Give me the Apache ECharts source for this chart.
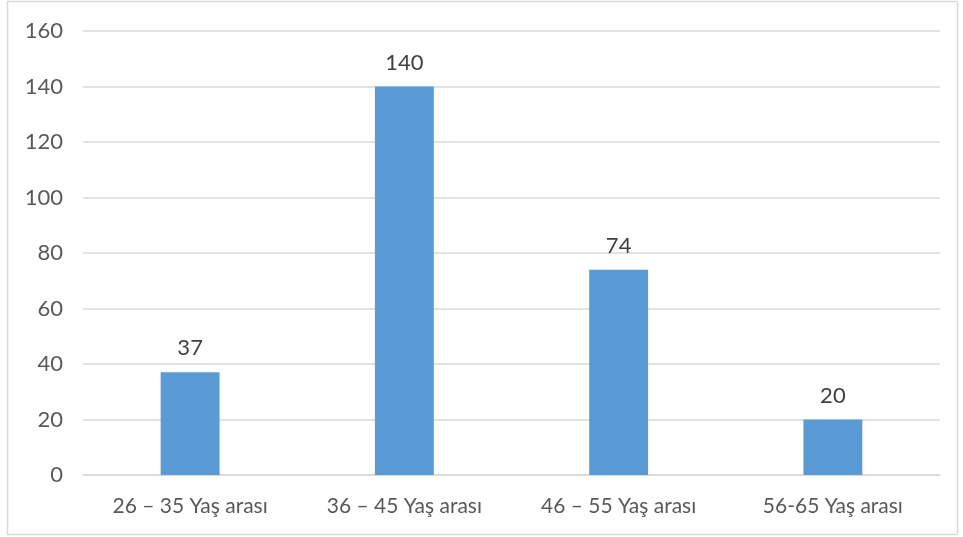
<!DOCTYPE html>
<html><head><meta charset="utf-8">
<script src="https://cdn.jsdelivr.net/npm/echarts@6/dist/echarts.min.js"></script>
<style>html,body{margin:0;padding:0;background:#fff}#c{width:963px;height:537px}</style>
</head><body><div id="c"></div>
<script>
var categories = ['26 – 35 Yaş arası', '36 – 45 Yaş arası', '46 – 55 Yaş arası', '56-65 Yaş arası'];
var values = [37, 140, 74, 20];
var yTicks = [0, 20, 40, 60, 80, 100, 120, 140, 160];

var chart = echarts.init(document.getElementById('c'));
chart.setOption({
  animation: false,
  backgroundColor: '#fff',
  graphic: [{type: 'rect', shape: {x: 7.5, y: 1.5, width: 950, height: 533}, style: {fill: 'none', stroke: '#d9d9d9', lineWidth: 1.5}, silent: true}],
  grid: {left: 83, right: 23, top: 31, bottom: 62},
  xAxis: {
    type: 'category', data: categories,
    axisLine: {lineStyle: {color: '#d9d9d9', width: 1.5}},
    axisTick: {show: false},
    axisLabel: {color: '#595959', fontSize: 21, fontFamily: 'Lato', margin: 21}
  },
  yAxis: {
    type: 'value', min: yTicks[0], max: yTicks[yTicks.length - 1], interval: 20,
    axisLine: {show: false}, axisTick: {show: false},
    axisLabel: {color: '#595959', fontSize: 22, fontFamily: 'Lato', margin: 20},
    splitLine: {lineStyle: {color: '#d9d9d9', width: 1.5}}
  },
  series: [{
    type: 'bar', data: values, barWidth: '27.5%',
    itemStyle: {color: '#5b9bd5'},
    label: {show: true, position: 'top', color: '#404040', fontSize: 22, fontFamily: 'Lato', distance: 13}
  }]
});
</script></body></html>
